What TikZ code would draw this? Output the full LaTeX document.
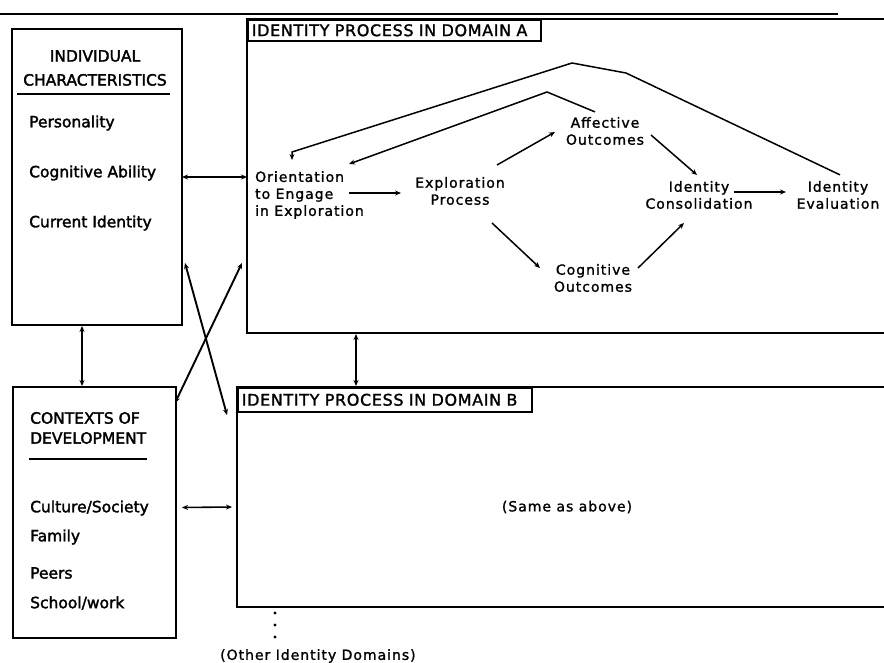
\documentclass[tikz,border=0pt]{standalone}
\usepackage{fontspec}
\setmainfont{DejaVu Sans}
\newfontfamily\icfont{DejaVu Sans}[FakeBold=2]
\newfontfamily\dfont{DejaVu Sans}[LetterSpace=7,FakeBold=1.3]
\newfontfamily\tabfont{DejaVu Sans}[LetterSpace=4,FakeBold=1.5]
\usetikzlibrary{arrows.meta,calc}
\begin{document}
\begin{tikzpicture}[x=1pt,y=-1pt,
  frame/.style={draw,line width=1.8pt},
  region/.style={inner sep=0pt,outer sep=0pt},
  ictext/.style={inner sep=0pt,font=\icfont\fontsize{15.5}{24}\selectfont,anchor=west},
  dtext/.style={inner sep=1pt,font=\dfont\fontsize{14}{17}\selectfont,align=center},
  tabbox/.style={draw,line width=1.6pt,inner xsep=4pt,inner ysep=0pt,anchor=north west,align=left,font=\tabfont\fontsize{16}{18}\selectfont},
  arr/.style={line width=1.5pt,-{Stealth[length=6pt,width=5pt]}},
  darr/.style={line width=1.6pt,{Stealth[length=6pt,width=5pt]}-{Stealth[length=6pt,width=5pt]}}]
\useasboundingbox (0,0) rectangle (884,663);

% title underline (title itself is cut off)
\draw[line width=1.2pt] (0,14) -- (838,14);

% boxes
\node[frame,region,minimum width=170pt,minimum height=296pt] (ic) at (97,177) {};
\node[frame,region,minimum width=163pt,minimum height=251pt] (ctx) at (94.5,512.5) {};
\node[region,minimum width=637pt,minimum height=314pt] (doma) at (565.5,176) {};
\draw[frame] (doma.north east) -- (doma.north west) -- (doma.south west) -- (doma.south east);
\node[region,minimum width=647pt,minimum height=220pt] (domb) at (560.5,497) {};
\draw[frame] (domb.north east) -- (domb.north west) -- (domb.south west) -- (domb.south east);

\node[tabbox,text width=285pt,minimum height=21pt] (taba) at (doma.north west) {IDENTITY PROCESS IN DOMAIN A};
\node[tabbox,text width=286pt,minimum height=24pt] (tabb) at (domb.north west) {IDENTITY PROCESS IN DOMAIN B};

% individual characteristics
\node[inner sep=0pt,align=center,font=\icfont\fontsize{15.5}{24}\selectfont] (ichead) at (95,68) {INDIVIDUAL\\CHARACTERISTICS};
\draw[line width=1.5pt] ($(ic.north west)+(5,65)$) -- ($(ic.north east)+(-12,65)$);
\node[ictext] (pers) at (29,123) {Personality};
\node[ictext] (cogab) at (29,173) {Cognitive Ability};
\node[ictext] (curid) at (29,223) {Current Identity};

% contexts of development
\node[inner sep=0pt,align=left,anchor=west,font=\icfont\fontsize{15.5}{20}\selectfont] (ctxhead) at (30,428) {CONTEXTS OF\\DEVELOPMENT};
\draw[line width=1.5pt] ($(ctx.north west)+(16,72)$) -- ($(ctx.north west)+(134,72)$);
\node[ictext] (cult) at (30,508) {Culture/Society};
\node[ictext] (fam) at (30,537) {Family};
\node[ictext] (peers) at (30,573) {Peers};
\node[ictext] (school) at (30,603) {School/work};

% domain A contents
\node[dtext,align=left,anchor=west] (orient) at (254,195) {Orientation\\to Engage\\in Exploration};
\node[dtext] (explore) at (460,191) {Exploration\\Process};
\node[dtext] (affect) at (605,131) {Affective\\Outcomes};
\node[dtext] (cog) at (593,278) {Cognitive\\Outcomes};
\node[dtext] (cons) at (699,195) {Identity\\Consolidation};
\node[dtext] (eval) at (838,195) {Identity\\Evaluation};

% domain B contents
\node[dtext] (same) at (567,507) {(Same as above)};
\foreach \yy in {613,625,637} \fill (275,\yy) circle (1.7pt);
\node[dtext,anchor=west] (other) at (219,656) {(Other Identity Domains)};

% outer connectors
\draw[darr] (ic.east) -- (ic.east -| doma.west);
\draw[darr,line width=1.9pt] ($(ic.south east)+(3,-62)$) -- ($(domb.north west)+(-10,28)$);
\draw[darr,line width=1.9pt] ($(doma.south west)+(-5,-70)$) -- ($(ctx.north east)+(-1,16)$);
\draw[darr] ($(ic.south)+(-15,1)$) -- ($(ctx.north)+(-12.5,-1)$);
\draw[darr] ($(doma.south west)+(109,1)$) -- ($(domb.north west)+(119,-1)$);
\draw[darr] ($(ctx.east)+(6,-5)$) -- ($(domb.west)+(-5,10)$);

% domain A connectors
\coordinate (b1) at (626,73);
\coordinate (b2) at (572,63);
\coordinate (b3) at (292,152);
\draw[arr] ($(eval.north)+(2,-5)$) -- (b1) -- (b2) -- (b3) -- ($(orient.north west)+(38,-10)$);
\coordinate (c1) at (547,92);
\draw[arr] ($(affect.north)+(-10,-4)$) -- (c1) -- ($(orient.north west)+(95,-6)$);
\draw[arr] ($(orient.west)+(95,-2)$) -- ($(explore.center)+(-59,2)$);
\draw[arr] ($(explore.center)+(37,-26)$) -- ($(affect.center)+(-50,1)$);
\draw[arr] ($(explore.center)+(32,32)$) -- ($(cog.center)+(-53,-10)$);
\draw[arr] ($(affect.center)+(46,4)$) -- ($(cons.center)+(-2,-20)$);
\draw[arr] ($(cog.center)+(45,-10)$) -- ($(cons.center)+(-15,28)$);
\draw[arr] ($(cons.center)+(35,-3)$) -- ($(eval.center)+(-52,-3)$);
\end{tikzpicture}
\end{document}
